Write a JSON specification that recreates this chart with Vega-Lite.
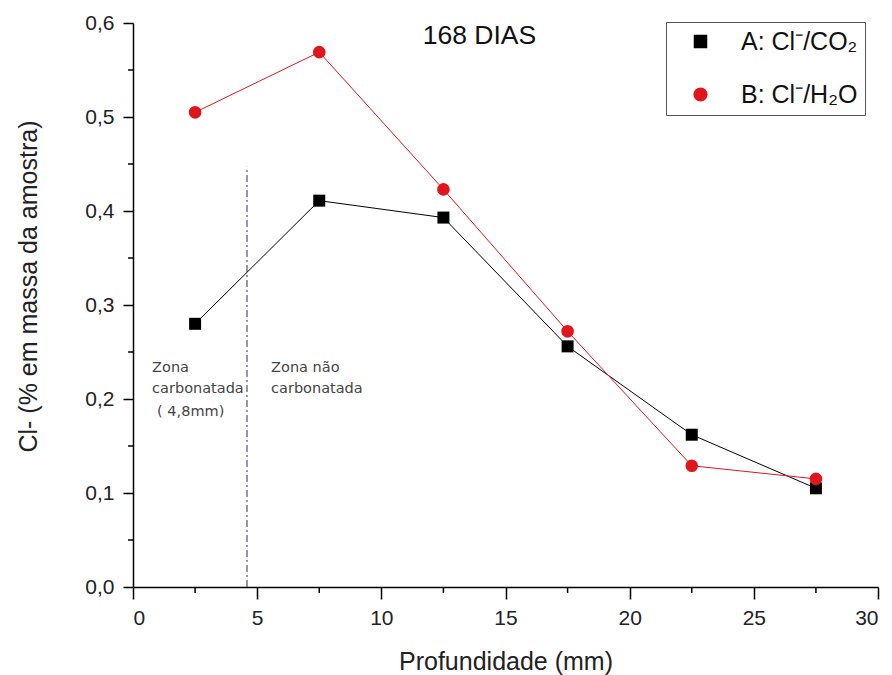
{
  "$schema": "https://vega.github.io/schema/vega-lite/v6.json",
  "width": 745,
  "height": 564,
  "autosize": {"type": "none"},
  "padding": {"left": 133, "top": 23, "right": 14, "bottom": 88},
  "background": "white",
  "config": {
    "view": {"stroke": null},
    "font": "Liberation Sans",
    "axis": {"grid": false, "domainColor": "#000", "domainWidth": 1.5, "labelColor": "#222", "titleColor": "#222", "labelFont": "Liberation Sans", "titleFont": "Liberation Sans", "titleFontWeight": "normal"}
  },
  "datasets": {
    "series": [
      {"prof": 2.5, "cl": 0.280, "serie": "A"},
      {"prof": 7.5, "cl": 0.411, "serie": "A"},
      {"prof": 12.5, "cl": 0.393, "serie": "A"},
      {"prof": 17.5, "cl": 0.256, "serie": "A"},
      {"prof": 22.5, "cl": 0.162, "serie": "A"},
      {"prof": 27.5, "cl": 0.105, "serie": "A"},
      {"prof": 2.5, "cl": 0.505, "serie": "B"},
      {"prof": 7.5, "cl": 0.569, "serie": "B"},
      {"prof": 12.5, "cl": 0.423, "serie": "B"},
      {"prof": 17.5, "cl": 0.272, "serie": "B"},
      {"prof": 22.5, "cl": 0.129, "serie": "B"},
      {"prof": 27.5, "cl": 0.115, "serie": "B"}
    ],
    "xmenor": [{"v": 2.5}, {"v": 7.5}, {"v": 12.5}, {"v": 17.5}, {"v": 22.5}, {"v": 27.5}],
    "ymenor": [{"v": 0.05}, {"v": 0.15}, {"v": 0.25}, {"v": 0.35}, {"v": 0.45}, {"v": 0.55}],
    "limite": [{"prof": 4.59, "y0": 0, "y1": 0.447}],
    "notas": [
      {"prof": 0.77, "cl": 0.233, "texto": "Zona"},
      {"prof": 0.77, "cl": 0.211, "texto": "carbonatada"},
      {"prof": 0.97, "cl": 0.186, "texto": "( 4,8mm)"},
      {"prof": 5.56, "cl": 0.233, "texto": "Zona não"},
      {"prof": 5.56, "cl": 0.211, "texto": "carbonatada"}
    ],
    "titulo": [{"prof": 13.95, "cl": 0.586, "texto": "168 DIAS"}]
  },
  "layer": [
    {
      "data": {"name": "limite"},
      "mark": {"type": "rule", "color": "#2b2b66", "strokeWidth": 1, "strokeDash": [7, 3, 2, 3]},
      "encoding": {
        "x": {"field": "prof", "type": "quantitative", "scale": {"domain": [0, 30], "nice": false}},
        "y": {"field": "y0", "type": "quantitative", "scale": {"domain": [0, 0.6], "nice": false}},
        "y2": {"field": "y1"}
      }
    },
    {
      "data": {"name": "xmenor"},
      "mark": {"type": "rule", "color": "#000", "strokeWidth": 1.5, "clip": false},
      "encoding": {"x": {"field": "v", "type": "quantitative"}, "y": {"datum": 0}, "y2": {"datum": -0.0064}}
    },
    {
      "data": {"name": "ymenor"},
      "mark": {"type": "rule", "color": "#000", "strokeWidth": 1.5, "clip": false},
      "encoding": {"y": {"field": "v", "type": "quantitative"}, "x": {"datum": 0}, "x2": {"datum": -0.2}}
    },
    {
      "data": {"name": "series"},
      "mark": {"type": "line", "strokeWidth": 1},
      "encoding": {
        "x": {"field": "prof", "type": "quantitative"},
        "y": {"field": "cl", "type": "quantitative"},
        "color": {"field": "serie", "type": "nominal", "scale": {"domain": ["A", "B"], "range": ["#000000", "#e0161c"]}}
      }
    },
    {
      "data": {"name": "series"},
      "mark": {"type": "point", "filled": true, "opacity": 1},
      "encoding": {
        "x": {
          "field": "prof", "type": "quantitative",
          "axis": {
            "title": "Profundidade (mm)",
            "values": [0, 5, 10, 15, 20, 25, 30],
            "labelOverlap": false,
            "ticks": true,
            "tickSize": 12,
            "tickColor": "#000000",
            "tickWidth": 1.5,
            "tickOpacity": 1,
            "labelPadding": 8,
            "labelFontSize": 21,
            "titleFontSize": 25,
            "titleBaseline": "alphabetic",
            "titleY": 82
          }
        },
        "y": {
          "field": "cl", "type": "quantitative",
          "axis": {
            "title": "Cl- (% em massa da amostra)",
            "values": [0, 0.1, 0.2, 0.3, 0.4, 0.5, 0.6],
            "labelExpr": "replace(format(datum.value, '.1f'), '.', ',')",
            "labelOverlap": false,
            "ticks": true,
            "tickSize": 10,
            "tickColor": "#000000",
            "tickWidth": 1.5,
            "tickOpacity": 1,
            "labelPadding": 9,
            "labelFontSize": 21,
            "titleFontSize": 25,
            "titleAngle": -90,
            "titleAlign": "center",
            "titleBaseline": "alphabetic",
            "titleX": -97,
            "titleY": 263
          }
        },
        "color": {
          "field": "serie", "type": "nominal",
          "legend": {
            "title": null,
            "orient": "none",
            "legendX": 533,
            "legendY": -1,
            "strokeColor": "#555",
            "padding": 7,
            "symbolSize": 900,
            "symbolOffset": 15,
            "labelOffset": 28,
            "labelFontSize": 25,
            "labelColor": "#111",
            "rowPadding": 27,
            "labelExpr": "datum.value === 'A' ? 'A: Cl⁻/CO₂' : 'B: Cl⁻/H₂O'"
          }
        },
        "shape": {"field": "serie", "type": "nominal", "scale": {"domain": ["A", "B"], "range": ["square", "circle"]}, "legend": null},
        "size": {"field": "serie", "type": "nominal", "scale": {"domain": ["A", "B"], "range": [144, 160]}, "legend": null}
      }
    },
    {
      "data": {"name": "notas"},
      "mark": {"type": "text", "align": "left", "baseline": "middle", "font": "DejaVu Sans", "fontSize": 14.5, "color": "#444"},
      "encoding": {
        "x": {"field": "prof", "type": "quantitative"},
        "y": {"field": "cl", "type": "quantitative"},
        "text": {"field": "texto"}
      }
    },
    {
      "data": {"name": "titulo"},
      "mark": {"type": "text", "align": "center", "baseline": "middle", "font": "Liberation Sans", "fontSize": 26.5, "color": "#111"},
      "encoding": {
        "x": {"field": "prof", "type": "quantitative"},
        "y": {"field": "cl", "type": "quantitative"},
        "text": {"field": "texto"}
      }
    }
  ]
}
